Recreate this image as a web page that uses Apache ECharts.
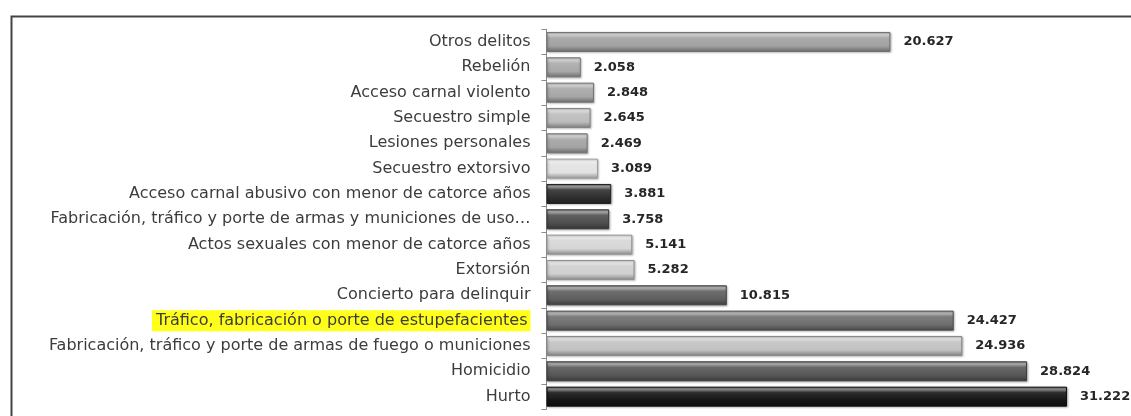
<!DOCTYPE html>
<html>
<head>
<meta charset="utf-8">
<script src="https://cdn.jsdelivr.net/npm/echarts@6/dist/echarts.min.js"></script>
<style>
html,body{margin:0;padding:0;background:#fff;}
#chart{width:1131px;height:416px;}
</style>
</head>
<body>
<div id="chart"></div>
<script>
var categories = [
  "Otros delitos",
  "Rebelión",
  "Acceso carnal violento",
  "Secuestro simple",
  "Lesiones personales",
  "Secuestro extorsivo",
  "Acceso carnal abusivo con menor de catorce años",
  "Fabricación, tráfico y porte de armas y municiones de uso…",
  "Actos sexuales con menor de catorce años",
  "Extorsión",
  "Concierto para delinquir",
  "Tráfico, fabricación o porte de estupefacientes",
  "Fabricación, tráfico y porte de armas de fuego o municiones",
  "Homicidio",
  "Hurto"
];
var values = [20627, 2058, 2848, 2645, 2469, 3089, 3881, 3758, 5141, 5282, 10815, 24427, 24936, 28824, 31222];
var barColors = ["#a2a2a2", "#a9a9a9", "#a6a6a6", "#bcbcbc", "#a3a3a3", "#e2e2e2", "#2e2e2e", "#4e4e4e", "#d6d6d6", "#cfcfcf", "#5e5e5e", "#6e6e6e", "#c2c2c2", "#575757", "#141414"];
var highlighted = "Tráfico, fabricación o porte de estupefacientes";

function shade(hex, f) {
  var n = parseInt(hex.slice(1), 16);
  var r = (n >> 16) & 255, g = (n >> 8) & 255, b = n & 255;
  function adj(c) {
    var v = f >= 0 ? c + (255 - c) * f : c * (1 + f);
    return Math.max(0, Math.min(255, Math.round(v)));
  }
  return "rgb(" + adj(r) + "," + adj(g) + "," + adj(b) + ")";
}

function fmt(v) {
  return String(v).replace(/\B(?=(\d{3})+(?!\d))/g, ".");
}

var chart = echarts.init(document.getElementById("chart"), null, {renderer: "canvas"});

var seriesData = values.map(function (v, i) {
  var c = barColors[i];
  return {
    value: v,
    itemStyle: {
      color: new echarts.graphic.LinearGradient(0, 0, 0, 1, [
        {offset: 0, color: shade(c, 0.15)},
        {offset: 0.12, color: shade(c, 0.55)},
        {offset: 0.3, color: shade(c, 0.1)},
        {offset: 0.7, color: c},
        {offset: 1, color: shade(c, -0.35)}
      ]),
      borderColor: shade(c, -0.3),
      borderWidth: 1,
      shadowColor: "rgba(0,0,0,0.25)",
      shadowBlur: 2,
      shadowOffsetX: 1,
      shadowOffsetY: 1
    }
  };
});

chart.setOption({
  backgroundColor: "#ffffff",
  animation: false,
  graphic: [{
    type: "rect",
    left: 9,
    top: 14,
    shape: {x: 0, y: 0, width: 1200, height: 500},
    style: {fill: "none", stroke: "#444444", lineWidth: 2},
    silent: true,
    z: 0
  }],
  grid: {left: 546.5, right: 1, top: 29.3, bottom: 6.7, containLabel: false},
  xAxis: {
    type: "value",
    min: 0,
    max: 35000,
    show: false
  },
  yAxis: {
    type: "category",
    data: categories,
    inverse: true,
    axisLine: {show: true, lineStyle: {color: "#8a8a8a", width: 1}},
    axisTick: {show: true, length: 5, lineStyle: {color: "#8a8a8a"}},
    axisLabel: {
      margin: 16,
      color: "#3c3c3c",
      fontFamily: "DejaVu Sans",
      fontSize: 16,
      formatter: function (v) {
        return v === highlighted ? "{hl|" + v + "}" : v;
      },
      rich: {
        hl: {
          backgroundColor: "#ffff1a",
          color: "#3c3c3c",
          fontFamily: "DejaVu Sans",
          fontSize: 16,
          padding: [3, 3, 2, 4]
        }
      }
    }
  },
  series: [{
    type: "bar",
    data: seriesData,
    barCategoryGap: "21%",
    label: {
      show: true,
      position: "right",
      distance: 13,
      color: "#262626",
      fontFamily: "DejaVu Sans",
      fontWeight: "bold",
      fontSize: 13,
      formatter: function (p) { return fmt(p.value); }
    }
  }]
});
</script>
</body>
</html>
